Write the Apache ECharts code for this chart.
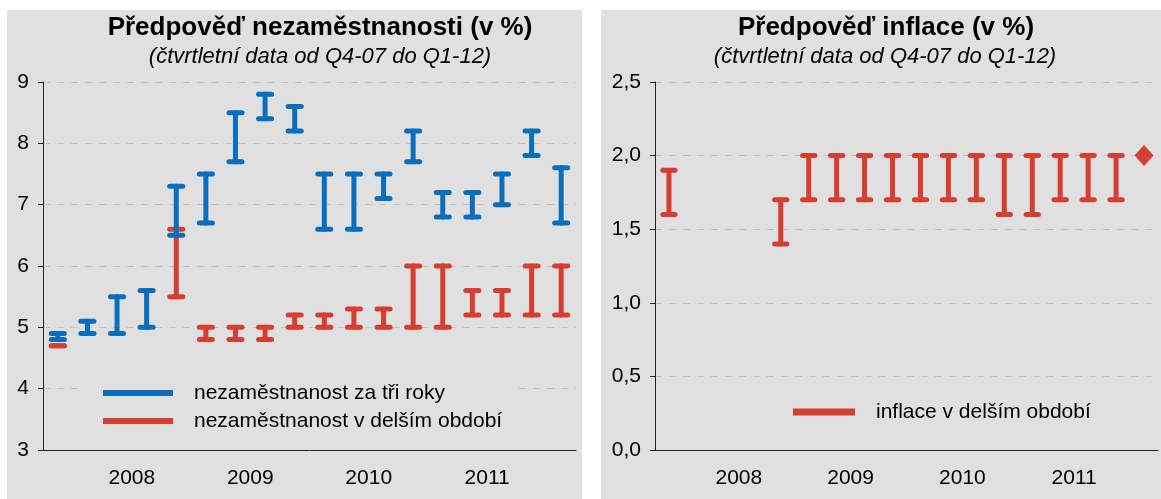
<!DOCTYPE html>
<html>
<head>
<meta charset="utf-8">
<script src="https://cdn.jsdelivr.net/npm/echarts@6/dist/echarts.min.js"></script>
<style>
  html, body { margin: 0; padding: 0; background: #fff; }
  #chart { width: 1161px; height: 499px; }
</style>
</head>
<body>
<div id="chart"></div>
<script>
// quarters Q4-07 .. Q1-12
var quarters = ['Q4-07', 'Q1-08', 'Q2-08', 'Q3-08', 'Q4-08', 'Q1-09', 'Q2-09', 'Q3-09', 'Q4-09',
                'Q1-10', 'Q2-10', 'Q3-10', 'Q4-10', 'Q1-11', 'Q2-11', 'Q3-11', 'Q4-11', 'Q1-12'];
var years = ['2008', '2009', '2010', '2011'];

// nezaměstnanost za tři roky (min / max)
var unemp3yLow  = [4.8, 4.9, 4.9, 5.0, 6.5, 6.7, 7.7, 8.4, 8.2, 6.6, 6.6, 7.1, 7.7, 6.8, 6.8, 7.0, 7.8, 6.7];
var unemp3yHigh = [4.9, 5.1, 5.5, 5.6, 7.3, 7.5, 8.5, 8.8, 8.6, 7.5, 7.5, 7.5, 8.2, 7.2, 7.2, 7.5, 8.2, 7.6];
// nezaměstnanost v delším období
var unempLongLow  = [4.7, null, null, null, 5.5, 4.8, 4.8, 4.8, 5.0, 5.0, 5.0, 5.0, 5.0, 5.0, 5.2, 5.2, 5.2, 5.2];
var unempLongHigh = [4.7, null, null, null, 6.6, 5.0, 5.0, 5.0, 5.2, 5.2, 5.3, 5.3, 6.0, 6.0, 5.6, 5.6, 6.0, 6.0];
// inflace v delším období
var inflLongLow  = [1.6, null, null, null, 1.4, 1.7, 1.7, 1.7, 1.7, 1.7, 1.7, 1.7, 1.6, 1.6, 1.7, 1.7, 1.7, null];
var inflLongHigh = [1.9, null, null, null, 1.7, 2.0, 2.0, 2.0, 2.0, 2.0, 2.0, 2.0, 2.0, 2.0, 2.0, 2.0, 2.0, null];
var inflLongPoint = [null, null, null, null, null, null, null, null, null, null, null, null, null, null, null, null, null, 2.0];

var unempTicks = [3, 4, 5, 6, 7, 8, 9];
var inflTicks = [0, 0.5, 1, 1.5, 2, 2.5];

var BLUE = '#0a6ebd';
var RED = '#d63e31';
var PANEL = '#e0e0e0';
var FONT = '"Liberation Sans", Arial, sans-serif';

// pozice popisku roku = střed jeho čtvrtletí
var yearPos = years.map(function (y) {
    var idx = [];
    quarters.forEach(function (q, i) { if (q.slice(3) === y.slice(2)) idx.push(i); });
    return idx[0] + idx.length / 2;
});

function rows(lo, hi) {
    var out = [];
    for (var i = 0; i < lo.length; i++) {
        if (lo[i] != null) out.push([i, lo[i], hi[i]]);
    }
    return out;
}

function errorBar(color) {
    return function (params, api) {
        var i = api.value(0);
        var top = api.coord([i, api.value(2)]);
        var bot = api.coord([i, api.value(1)]);
        var half = api.size([1, 0])[0] * 0.22;
        var st = { stroke: color, lineWidth: 5, lineCap: 'round' };
        return {
            type: 'group',
            children: [
                { type: 'line', shape: { x1: top[0], y1: top[1], x2: bot[0], y2: bot[1] }, style: st },
                { type: 'line', shape: { x1: top[0] - half, y1: top[1], x2: top[0] + half, y2: top[1] }, style: st },
                { type: 'line', shape: { x1: bot[0] - half, y1: bot[1], x2: bot[0] + half, y2: bot[1] }, style: st }
            ]
        };
    };
}

function catAxis(gridIndex) {
    return {
        type: 'category', gridIndex: gridIndex, data: quarters, boundaryGap: true,
        axisLine: { lineStyle: { color: '#222', width: 1 } },
        axisTick: { length: 5, lineStyle: { color: '#222' } },
        axisLabel: { show: false }
    };
}

function yearAxis(gridIndex) {
    return {
        type: 'value', gridIndex: gridIndex, position: 'bottom', min: 0, max: quarters.length, interval: 1,
        axisLine: { show: false }, axisTick: { show: false }, splitLine: { show: false },
        axisLabel: {
            margin: 18, fontSize: 21, color: '#000', fontFamily: FONT,
            formatter: function (v) { var k = yearPos.indexOf(v); return k >= 0 ? years[k] : ''; }
        }
    };
}

function valAxis(gridIndex, ticks, fmt) {
    return {
        type: 'value', gridIndex: gridIndex,
        min: ticks[0], max: ticks[ticks.length - 1], interval: ticks[1] - ticks[0],
        axisLine: { show: true, lineStyle: { color: '#222', width: 1 } },
        axisTick: { show: true, length: 5, lineStyle: { color: '#222' } },
        axisLabel: { margin: 14, fontSize: 21, color: '#000', fontFamily: FONT, formatter: fmt },
        splitLine: { show: true, lineStyle: { color: '#c4c4c4', width: 1, type: [7, 7] } }
    };
}

function titleText(x, y, text, font) {
    return { type: 'text', x: x, y: y, style: { text: text, font: font, fill: '#000', align: 'center', verticalAlign: 'middle' } };
}

var chart = echarts.init(document.getElementById('chart'));
chart.setOption({
    animation: false,
    backgroundColor: PANEL,
    graphic: [
        { type: 'rect', shape: { x: 0, y: 0, width: 1161, height: 10 }, style: { fill: '#fff' } },
        { type: 'rect', shape: { x: 0, y: 0, width: 7, height: 499 }, style: { fill: '#fff' } },
        { type: 'rect', shape: { x: 582, y: 0, width: 19, height: 499 }, style: { fill: '#fff' } },
        titleText(320, 28, 'Předpověď nezaměstnanosti (v %)', 'bold 26px ' + FONT),
        titleText(320, 57, '(čtvrtletní data od Q4-07 do Q1-12)', 'italic 22px ' + FONT),
        titleText(886, 28, 'Předpověď inflace (v %)', 'bold 26px ' + FONT),
        titleText(885, 57, '(čtvrtletní data od Q4-07 do Q1-12)', 'italic 22px ' + FONT)
    ],
    legend: [{
        data: ['nezaměstnanost za tři roky', 'nezaměstnanost v delším období'],
        orient: 'vertical', left: 77, top: 369, padding: [12, 12, 8, 26],
        backgroundColor: PANEL, icon: 'rect', itemWidth: 70, itemHeight: 6, itemGap: 4,
        selectedMode: false,
        textStyle: { fontSize: 21, color: '#000', fontFamily: FONT, lineHeight: 24, padding: [0, 0, 0, 16] }
    }, {
        data: ['inflace v delším období'],
        orient: 'vertical', left: 793, top: 400, padding: 0,
        icon: 'rect', itemWidth: 62, itemHeight: 7, selectedMode: false,
        textStyle: { fontSize: 21, color: '#000', fontFamily: FONT, lineHeight: 24, padding: [0, 0, 0, 16] }
    }],
    grid: [
        { left: 43, top: 82, width: 533, height: 368 },
        { left: 655, top: 82, width: 513, height: 368 }
    ],
    xAxis: [catAxis(0), yearAxis(0), catAxis(1), yearAxis(1)],
    yAxis: [
        valAxis(0, unempTicks, function (v) { return String(v); }),
        valAxis(1, inflTicks, function (v) { return v.toFixed(1).replace('.', ','); })
    ],
    series: [
        {
            name: 'nezaměstnanost v delším období', type: 'custom', xAxisIndex: 0, yAxisIndex: 0,
            itemStyle: { color: RED }, renderItem: errorBar(RED), data: rows(unempLongLow, unempLongHigh)
        },
        {
            name: 'nezaměstnanost za tři roky', type: 'custom', xAxisIndex: 0, yAxisIndex: 0,
            itemStyle: { color: BLUE }, renderItem: errorBar(BLUE), data: rows(unemp3yLow, unemp3yHigh)
        },
        {
            name: 'inflace v delším období', type: 'custom', xAxisIndex: 2, yAxisIndex: 1,
            itemStyle: { color: RED }, renderItem: errorBar(RED), data: rows(inflLongLow, inflLongHigh)
        },
        {
            name: 'inflace bod', type: 'scatter', xAxisIndex: 2, yAxisIndex: 1,
            symbol: 'diamond', symbolSize: [19, 21], itemStyle: { color: RED, opacity: 1 },
            data: inflLongPoint.map(function (v, i) { return [i, v]; }).filter(function (d) { return d[1] != null; })
        }
    ]
});
</script>
</body>
</html>
